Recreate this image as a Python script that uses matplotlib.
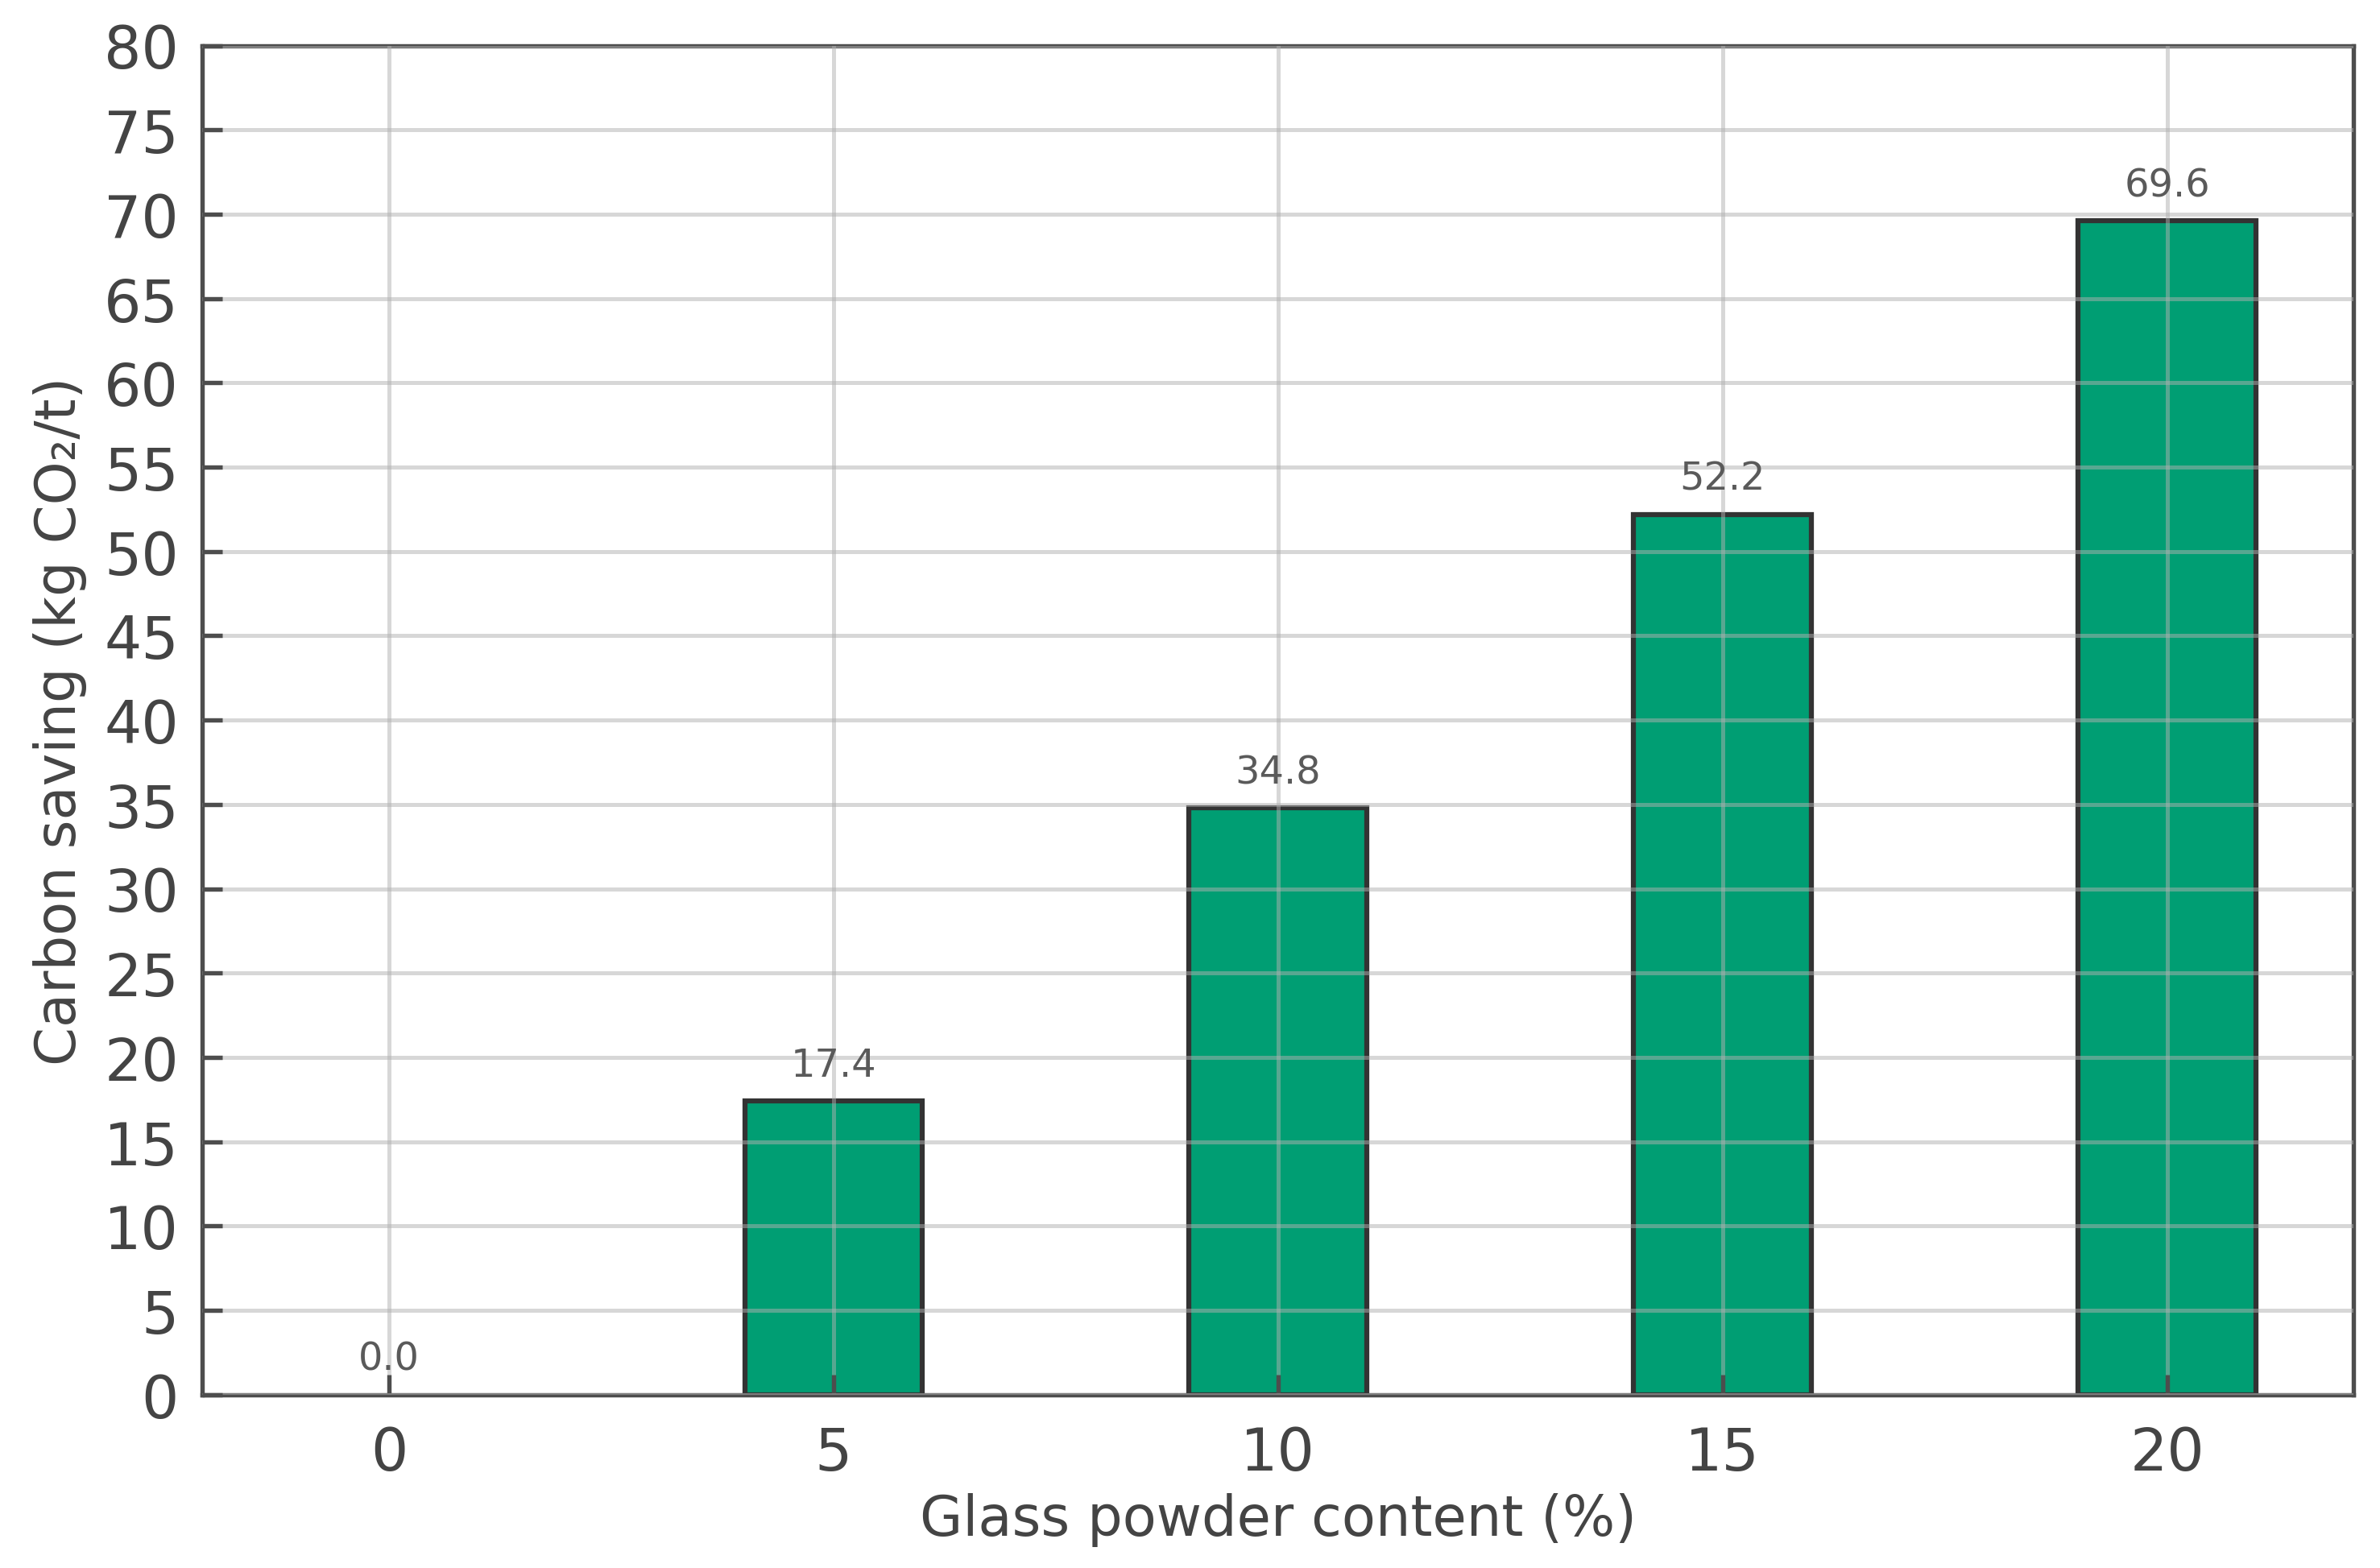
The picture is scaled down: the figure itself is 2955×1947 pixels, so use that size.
import numpy as np
import matplotlib
matplotlib.use("Agg")
from matplotlib import pyplot as plt

# datos
contenido = [0, 5, 10, 15, 20]
ahorro = [0.0, 17.4, 34.8, 52.2, 69.6]

color_barra = "#009E73"
gris = "#444444"

fig = plt.figure(figsize=(9.85, 6.493), dpi=300)
ax = fig.add_axes([0.085, 0.1105, 0.904, 0.860])

barras = ax.bar(contenido, ahorro, width=2, color=color_barra,
                edgecolor="#333333", linewidth=1.5, zorder=1)
# la barra de altura cero no muestra borde
for b, v in zip(barras, ahorro):
    if v == 0:
        b.set_linewidth(0)
ax.bar_label(barras, fmt="%.1f", padding=5, fontsize=11.5, color="#5a5a5a")

ax.set_ylim(0, 80)
ax.set_yticks(np.arange(0, 81, 5))
ax.set_xticks(contenido)
ax.grid(True, color="#b0b0b0", alpha=0.5, linewidth=1.2, zorder=2)
ax.set_axisbelow(False)

for s in ax.spines.values():
    s.set_color("#4d4d4d")
    s.set_linewidth(1.3)

ax.tick_params(direction="in", length=6, width=1.3, color="#4d4d4d",
               labelsize=17.5, labelcolor=gris, pad=7)
ax.tick_params(axis="x", pad=9)

ax.set_xlabel("Glass powder content (%)", fontsize=16.5, color=gris, labelpad=3)
ax.set_ylabel("Carbon saving (kg CO₂/t)", fontsize=16.5, color=gris, labelpad=5)

plt.savefig("out.png", dpi=300)
